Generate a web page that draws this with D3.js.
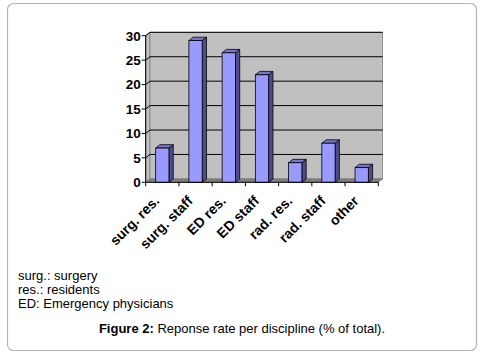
<!DOCTYPE html>
<html>
<head>
<meta charset="utf-8">
<script src="https://cdn.jsdelivr.net/npm/d3@7"></script>
<style>
  body { margin: 0; background: #fff; }
  svg { display: block; font-family: Arial, "Liberation Sans", sans-serif; }
</style>
</head>
<body>
<div id="chart"></div>
<script>
// Chart data
const categories = ["surg. res.", "surg. staff", "ED res.", "ED staff", "rad. res.", "rad. staff", "other"];
const responseRates = [7, 29, 26.5, 22, 4, 8, 3];
const yTicks = [0, 5, 10, 15, 20, 25, 30];
const notes = ["surg.: surgery", "res.: residents", "ED: Emergency physicians"];

const width = 482, height = 357;
const depth = { dx: 4.3, dy: -3.4 };

const svg = d3.select("#chart").append("svg")
  .attr("width", width)
  .attr("height", height);

// Outer frame
svg.append("rect")
  .attr("x", 7.5).attr("y", 3.5)
  .attr("width", 469).attr("height", 347)
  .attr("rx", 6).attr("ry", 6)
  .attr("fill", "#fff")
  .attr("stroke", "#b4b4b4")
  .attr("stroke-width", 1.2);

// Scales
const x = d3.scaleBand()
  .domain(categories)
  .range([145.7, 378.3])
  .padding(0);

const y = d3.scaleLinear()
  .domain([0, 30])
  .range([182.3, 35.7]);

const x0 = x.range()[0], x1 = x.range()[1];
const y0 = y(0), yTop = y(30);
const dx = depth.dx, dy = depth.dy;

const g = svg.append("g");

// Side wall
g.append("path")
  .attr("d", `M${x0},${y0} L${x0},${yTop} L${x0 + dx},${yTop + dy} L${x0 + dx},${y0 + dy} Z`)
  .attr("fill", "#c0c0c0")
  .attr("stroke", "#808080")
  .attr("stroke-width", 0.8);

// Back wall
g.append("rect")
  .attr("x", x0 + dx).attr("y", yTop + dy)
  .attr("width", x1 - x0).attr("height", y0 - yTop)
  .attr("fill", "#c0c0c0")
  .attr("stroke", "#808080")
  .attr("stroke-width", 0.8);

// Floor
g.append("path")
  .attr("d", `M${x0},${y0} L${x1},${y0} L${x1 + dx},${y0 + dy} L${x0 + dx},${y0 + dy} Z`)
  .attr("fill", "#808080")
  .attr("stroke", "#666")
  .attr("stroke-width", 0.5);

// Gridlines on walls
const grid = g.append("g").attr("class", "grid");
yTicks.filter(v => v > 0).forEach(v => {
  grid.append("path")
    .attr("d", `M${x0},${y(v)} L${x0 + dx},${y(v) + dy} L${x1 + dx},${y(v) + dy}`)
    .attr("fill", "none")
    .attr("stroke", "#000")
    .attr("stroke-width", 1);
});

// Bars (3D boxes)
const barW = x.bandwidth() * 0.4;
const bars = g.append("g").attr("class", "bars")
  .selectAll("g")
  .data(categories.map((c, i) => ({ cat: c, value: responseRates[i] })))
  .join("g");

bars.each(function(d) {
  const sel = d3.select(this);
  const bx = x(d.cat) + (x.bandwidth() - barW) / 2;
  const by = y(d.value);
  // side face
  sel.append("path")
    .attr("d", `M${bx + barW},${by} L${bx + barW + dx},${by + dy} L${bx + barW + dx},${y0 + dy} L${bx + barW},${y0} Z`)
    .attr("fill", "#4d4d8c")
    .attr("stroke", "#000")
    .attr("stroke-width", 0.8)
    .attr("stroke-linejoin", "round");
  // top face
  sel.append("path")
    .attr("d", `M${bx},${by} L${bx + dx},${by + dy} L${bx + barW + dx},${by + dy} L${bx + barW},${by} Z`)
    .attr("fill", "#7676cc")
    .attr("stroke", "#000")
    .attr("stroke-width", 0.8)
    .attr("stroke-linejoin", "round");
  // front face
  sel.append("rect")
    .attr("x", bx).attr("y", by)
    .attr("width", barW).attr("height", y0 - by)
    .attr("fill", "#9999ff")
    .attr("stroke", "#000")
    .attr("stroke-width", 0.8);
});

// Y axis
const yAxis = g.append("g").attr("class", "y-axis");
yAxis.append("line")
  .attr("x1", x0).attr("x2", x0)
  .attr("y1", yTop).attr("y2", y0)
  .attr("stroke", "#000").attr("stroke-width", 1);
yTicks.forEach(v => {
  yAxis.append("line")
    .attr("x1", x0 - 4).attr("x2", x0)
    .attr("y1", y(v)).attr("y2", y(v))
    .attr("stroke", "#000").attr("stroke-width", 1);
  yAxis.append("text")
    .attr("x", x0 - 5)
    .attr("y", y(v))
    .attr("dy", "0.36em")
    .attr("text-anchor", "end")
    .style("font-size", "13.5px")
    .style("font-weight", "bold")
    .text(v);
});

// X axis
const xAxis = g.append("g").attr("class", "x-axis");
xAxis.append("line")
  .attr("x1", x0).attr("x2", x1)
  .attr("y1", y0).attr("y2", y0)
  .attr("stroke", "#000").attr("stroke-width", 1);
categories.concat([null]).forEach(c => {
  const tx = c === null ? x1 : x(c);
  xAxis.append("line")
    .attr("x1", tx).attr("x2", tx)
    .attr("y1", y0).attr("y2", y0 + 4)
    .attr("stroke", "#000").attr("stroke-width", 1);
});
categories.forEach(c => {
  const cx = x(c) + x.bandwidth() / 2;
  xAxis.append("text")
    .attr("transform", `translate(${cx - 2},${y0 + 19.5}) rotate(-45)`)
    .attr("text-anchor", "end")
    .style("font-size", "14px")
    .style("font-weight", "bold")
    .text(c);
});

// Abbreviation notes
notes.forEach((t, i) => {
  svg.append("text")
    .attr("x", 18)
    .attr("y", 279.5 + i * 14)
    .style("font-size", "13px")
    .text(t);
});

// Caption
const cap = svg.append("text")
  .attr("x", 242)
  .attr("y", 333)
  .attr("text-anchor", "middle")
  .style("font-size", "13px");
cap.append("tspan").style("font-weight", "bold").text("Figure 2:");
cap.append("tspan").text(" Reponse rate per discipline (% of total).");
</script>
</body>
</html>
